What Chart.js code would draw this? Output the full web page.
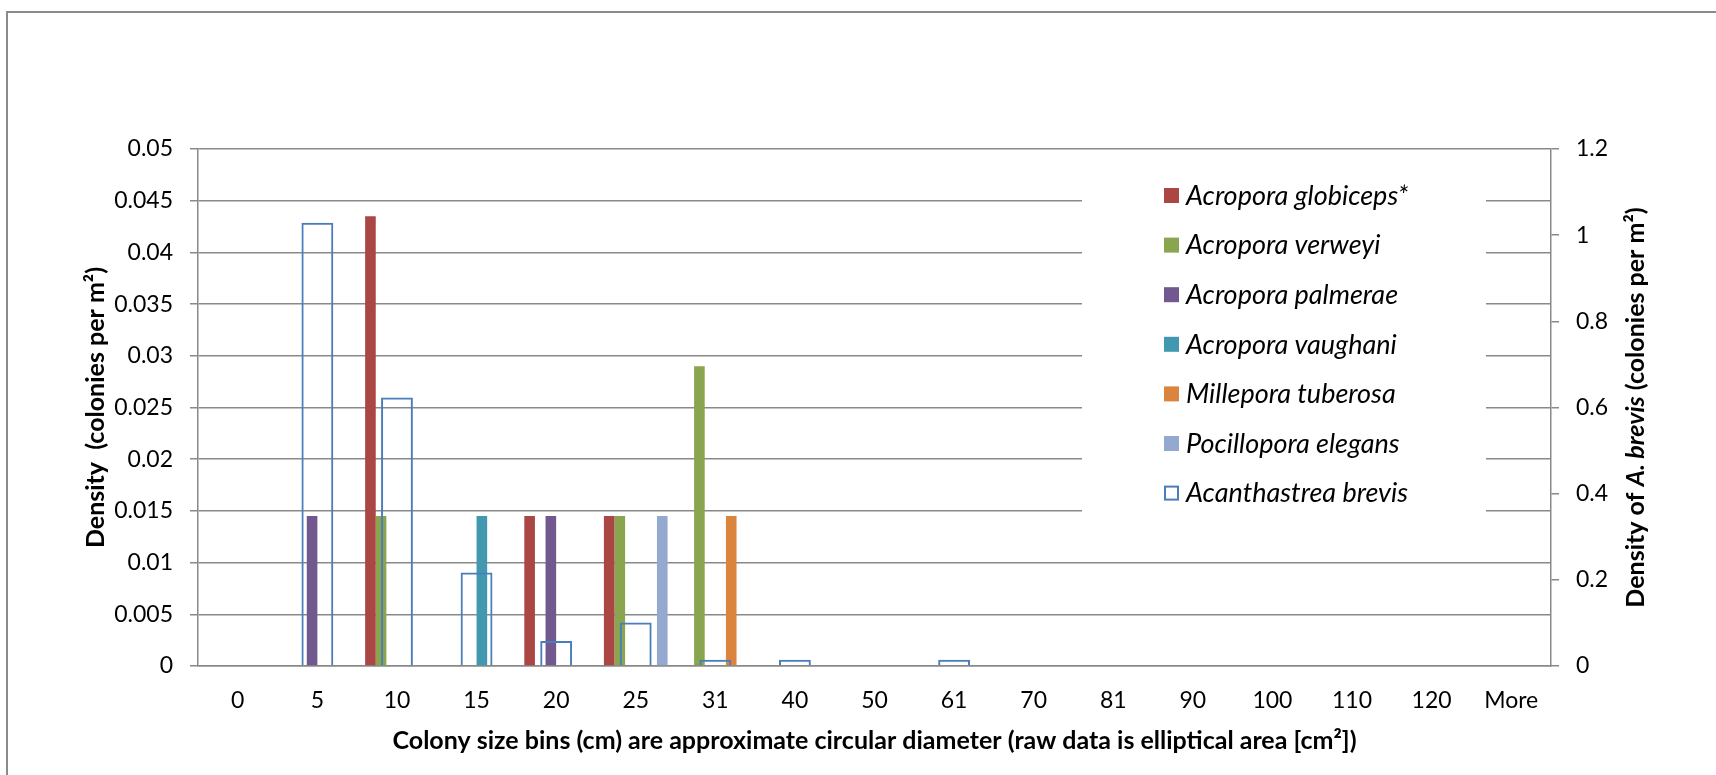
<!DOCTYPE html>
<html>
<head>
<meta charset="utf-8">
<script src="https://cdn.jsdelivr.net/npm/chart.js@4.4.1/dist/chart.umd.min.js"></script>
<style>
    body { margin: 0; background: #ffffff; overflow: hidden; }
    #wrap { position: relative; width: 1716px; height: 775px; }
    #chart1 { display: block; }
    #frame { position: absolute; left: 6px; top: 11px; width: 1800px; height: 900px;
             border-left: 2px solid #8a8a8a; border-top: 2px solid #8a8a8a; pointer-events: none; }
</style>
</head>
<body>
<div id="wrap">
    <canvas id="chart1" width="1716" height="775"></canvas>
    <div id="frame"></div>
</div>
<script>

// size bins on the x axis
const bins = ["0", "5", "10", "15", "20", "25", "31", "40", "50", "61", "70", "81", "90", "100", "110", "120", "More"];

// density per bin (colonies per m2), left axis
const globiceps = [0, 0, 0.0435, 0, 0.0145, 0.0145, 0, 0, 0, 0, 0, 0, 0, 0, 0, 0, 0];
const verweyi   = [0, 0, 0.0145, 0, 0, 0.0145, 0.029, 0, 0, 0, 0, 0, 0, 0, 0, 0, 0];
const palmerae  = [0, 0.0145, 0, 0, 0.0145, 0, 0, 0, 0, 0, 0, 0, 0, 0, 0, 0, 0];
const vaughani  = [0, 0, 0, 0.0145, 0, 0, 0, 0, 0, 0, 0, 0, 0, 0, 0, 0, 0];
const tuberosa  = [0, 0, 0, 0, 0, 0, 0.0145, 0, 0, 0, 0, 0, 0, 0, 0, 0, 0];
const elegans   = [0, 0, 0, 0, 0, 0.0145, 0, 0, 0, 0, 0, 0, 0, 0, 0, 0, 0];

// A. brevis density, right axis
const brevis = [null, 1.029, 0.623, 0.217, 0.058, 0.101, 0.0145, 0.0145, null, 0.0145, null, null, null, null, null, null, null];

// tick labels
const leftTicks  = ["0", "0.005", "0.01", "0.015", "0.02", "0.025", "0.03", "0.035", "0.04", "0.045", "0.05"];
const rightTicks = ["0", "0.2", "0.4", "0.6", "0.8", "1", "1.2"];

const gridGrey = "#898989";
const font = "Lato";


// legend drawn inside the plot on a white box (covers the grid lines)
const legendBox = {
    id: "legendBox",
    beforeDatasetsDraw(chart) {
        const ctx = chart.ctx;
        ctx.save();
        ctx.fillStyle = "#ffffff";
        ctx.fillRect(1082, 163, 404, 362);

        ctx.font = "italic 27px " + font;
        ctx.textBaseline = "middle";
        ctx.textAlign = "left";

        chart.data.datasets.forEach(function(ds, i) {
            const y = 195 + i * 49.6;
            if (ds.borderWidth) {
                ctx.fillStyle = "#ffffff";
                ctx.fillRect(1164, y - 7, 15, 15);
                ctx.strokeStyle = ds.borderColor;
                ctx.lineWidth = 2;
                ctx.strokeRect(1165, y - 6, 13, 13);
            } else {
                ctx.fillStyle = ds.backgroundColor;
                ctx.fillRect(1164, y - 7, 15, 15);
            }
            ctx.fillStyle = "#000000";
            ctx.fillText(ds.label, 1186, y + 1);
        });
        ctx.restore();
    }
};

// right axis title has an italic part, so it is drawn by hand
const rightTitle = {
    id: "rightTitle",
    afterDraw(chart) {
        const ctx = chart.ctx;
        const parts = [
            ["Density of ", "bold 25px " + font],
            ["A. brevis", "italic bold 25px " + font],
            [" (colonies per m\u00b2)", "bold 25px " + font]
        ];
        let total = 0;
        parts.forEach(function(p) {
            ctx.font = p[1];
            total += ctx.measureText(p[0]).width;
        });

        ctx.save();
        ctx.translate(1636, (chart.chartArea.top + chart.chartArea.bottom) / 2);
        ctx.rotate(-Math.PI / 2);
        ctx.textBaseline = "middle";
        ctx.textAlign = "left";
        ctx.fillStyle = "#000000";
        let x = -total / 2;
        parts.forEach(function(p) {
            ctx.font = p[1];
            ctx.fillText(p[0], x, 0);
            x += ctx.measureText(p[0]).width;
        });
        ctx.restore();
    }
};


const chartOne = document.getElementById("chart1");

new Chart(chartOne, {
    type: "bar",
    data: {
        labels: bins,
        datasets: [
            { label: "Acropora globiceps*", data: globiceps, backgroundColor: "#aa4643" },
            { label: "Acropora verweyi", data: verweyi, backgroundColor: "#89a54e" },
            { label: "Acropora palmerae", data: palmerae, backgroundColor: "#71588f" },
            { label: "Acropora vaughani", data: vaughani, backgroundColor: "#4198af" },
            { label: "Millepora tuberosa", data: tuberosa, backgroundColor: "#db843d" },
            { label: "Pocillopora elegans", data: elegans, backgroundColor: "#93a9cf" },
            {
                label: "Acanthastrea brevis",
                data: brevis,
                yAxisID: "y1",
                backgroundColor: "rgba(255,255,255,0)",
                borderColor: "#4a7ebb",
                borderWidth: 2,
                grouped: false,
                categoryPercentage: 0.4,
                barPercentage: 1,
                order: -1
            }
        ]
    },
    options: {
        responsive: false,
        animation: false,
        devicePixelRatio: 1,
        categoryPercentage: 0.8,
        barPercentage: 1,
        layout: { padding: { top: 149, left: 0, right: 0, bottom: 0 } },
        plugins: {
            legend: { display: false },
            tooltip: { enabled: false }
        },
        scales: {
            x: {
                afterFit: function(scale) { scale.height = 109; },
                grid: { display: false, drawTicks: false },
                border: { display: true, color: gridGrey, width: 1.5 },
                ticks: { color: "#000", padding: 21, font: { family: font, size: 23 } },
                title: {
                    display: true,
                    text: "Colony size bins (cm) are approximate circular diameter (raw data is elliptical area [cm\u00b2])",
                    color: "#000",
                    font: { family: font, size: 25, weight: "bold" },
                    padding: { top: 0, bottom: 19 }
                }
            },
            y: {
                position: "left",
                min: 0,
                max: 0.05,
                afterFit: function(scale) { scale.width = 198; },
                ticks: {
                    stepSize: 0.005,
                    color: "#000",
                    padding: 17,
                    font: { family: font, size: 23 },
                    callback: function(value, index) { return leftTicks[index]; }
                },
                grid: { color: gridGrey, lineWidth: 1.5, tickLength: 8 },
                border: { display: true, color: gridGrey, width: 1.5 },
                title: {
                    display: true,
                    text: "Density  (colonies per m\u00b2)",
                    color: "#000",
                    font: { family: font, size: 25, weight: "bold" },
                    padding: { top: 81, bottom: 0 }
                }
            },
            y1: {
                position: "right",
                min: 0,
                max: 1.2,
                afterFit: function(scale) { scale.width = 165; },
                ticks: {
                    stepSize: 0.2,
                    color: "#000",
                    padding: 17,
                    font: { family: font, size: 23 },
                    callback: function(value, index) { return rightTicks[index]; }
                },
                grid: { drawOnChartArea: false, color: gridGrey, lineWidth: 1.5, tickLength: 8 },
                border: { display: true, color: gridGrey, width: 1.5 }
            }
        }
    },
    plugins: [legendBox, rightTitle]
});

</script>
</body>
</html>
